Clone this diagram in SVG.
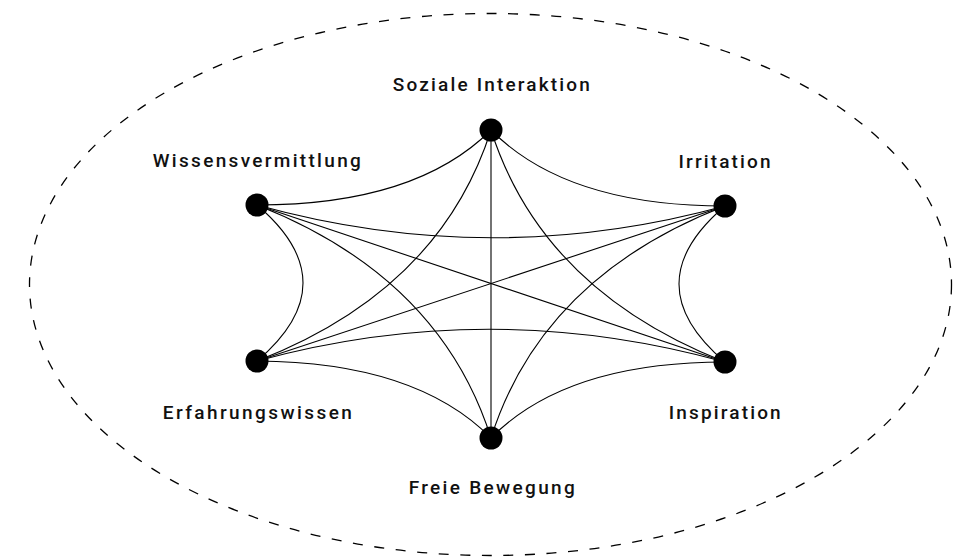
<svg xmlns="http://www.w3.org/2000/svg" width="953" height="557" viewBox="0 0 953 557">
<style>
.bg{fill:#fff}
.frame{fill:none;stroke:#000;stroke-width:1.3;stroke-dasharray:10 11.6}
.edge{fill:none;stroke:#000;stroke-width:1.1}
.dot{fill:#000}
.lbl{font-family:Roboto,"Liberation Sans","DejaVu Sans",sans-serif;font-weight:500;font-size:19px;fill:#111;text-anchor:middle}
</style>
<rect class="bg" x="0" y="0" width="953" height="557"/>
<ellipse class="frame" cx="490.5" cy="284.5" rx="461" ry="271"/>
<g id="connectors">
<path class="edge" d="M491,130 Q416,205 257,205"/>
<path class="edge" d="M491,130 Q566,206 725,206"/>
<path class="edge" d="M491,130 Q440,290 257,361"/>
<path class="edge" d="M491,130 Q542,290 725,362"/>
<path class="edge" d="M491,130 L491,438"/>
<path class="edge" d="M257,205 Q491,270 725,206"/>
<path class="edge" d="M257,205 Q349,283 257,361"/>
<path class="edge" d="M257,205 L725,362"/>
<path class="edge" d="M257,205 Q440,277 491,438"/>
<path class="edge" d="M725,206 L257,361"/>
<path class="edge" d="M725,206 Q633,284 725,362"/>
<path class="edge" d="M725,206 Q542,277 491,438"/>
<path class="edge" d="M257,361 Q491,297 725,362"/>
<path class="edge" d="M257,361 Q416,362 491,438"/>
<path class="edge" d="M725,362 Q566,362 491,438"/>
</g>
<g id="soziale-interaktion">
<circle class="dot" cx="491" cy="130" r="11.5"/>
<text class="lbl" x="491.3" y="90.5" textLength="197" lengthAdjust="spacing">Soziale Interaktion</text>
</g>
<g id="wissensvermittlung">
<circle class="dot" cx="257" cy="205" r="11.5"/>
<text class="lbl" x="256.8" y="167" textLength="208" lengthAdjust="spacing">Wissensvermittlung</text>
</g>
<g id="irritation">
<circle class="dot" cx="725" cy="206" r="11.5"/>
<text class="lbl" x="724.5" y="168" textLength="92" lengthAdjust="spacing">Irritation</text>
</g>
<g id="erfahrungswissen">
<circle class="dot" cx="257" cy="361" r="11.5"/>
<text class="lbl" x="257.3" y="418.5" textLength="189" lengthAdjust="spacing">Erfahrungswissen</text>
</g>
<g id="inspiration">
<circle class="dot" cx="725" cy="362" r="11.5"/>
<text class="lbl" x="724.7" y="419" textLength="112" lengthAdjust="spacing">Inspiration</text>
</g>
<g id="freie-bewegung">
<circle class="dot" cx="491" cy="438" r="11.5"/>
<text class="lbl" x="491.7" y="494" textLength="166" lengthAdjust="spacing">Freie Bewegung</text>
</g>
</svg>
